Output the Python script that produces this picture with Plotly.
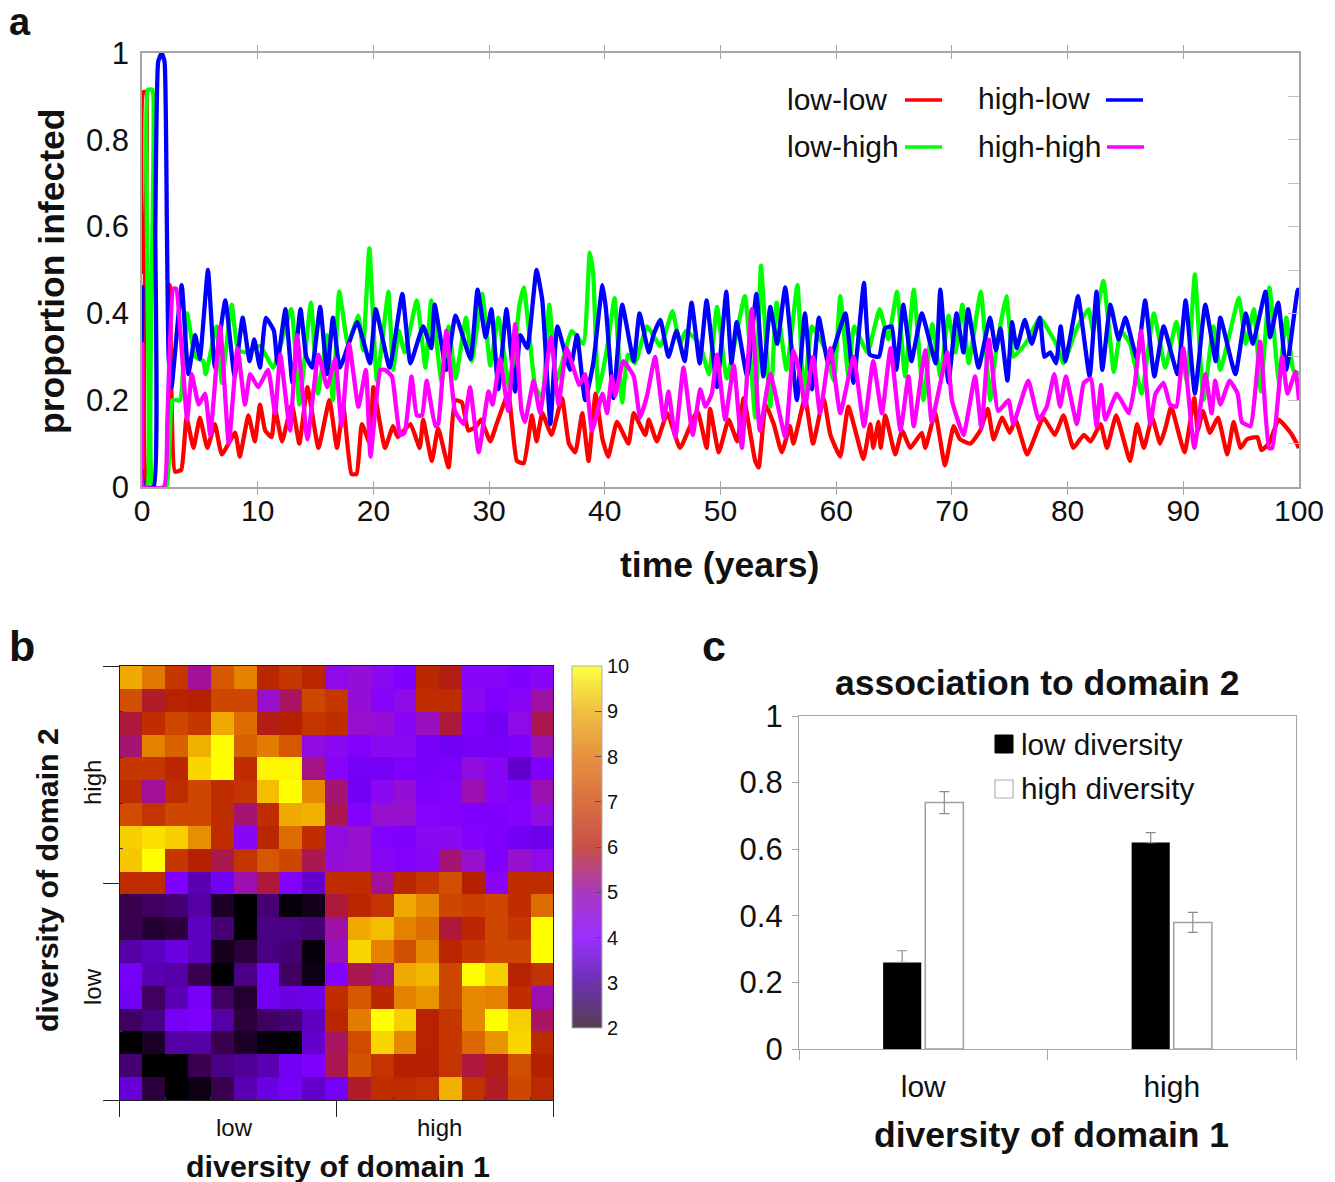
import plotly.graph_objects as go

W, H = 1335, 1182
FONT = "Liberation Sans"
INK = "#111111"
GREY = "#a6a6a6"

# ---------- panel a ----------
t_low_low = [0,.1,.35,.45,1.95,2.4,2.85,3.4,3.85,4.45,5,5.65,6.3,6.9,8.05,8.45,9.2,9.75,10.2,10.65,11.2,11.5,12.1,12.95,13.6,14.3,15.25,16.2,16.85,17.4,18.1,18.55,19,19.7,20,21,21.7,22.1,23.2,24,24.3,25.05,25.6,26.5,27.05,27.65,28.2,28.9,29.3,30.1,30.65,31.65,32.4,33,33.7,34.1,34.6,35.4,36.3,36.9,37.45,38.05,38.6,39.2,39.8,40.3,41.05,42.05,42.5,43.5,43.8,44.5,45.4,46.5,48,48.8,49.1,49.85,50.7,51.45,52,53,53.3,53.9,54.6,55.3,56,56.3,57.3,58,58.9,59.5,60.35,61.05,62.35,62.95,63.2,63.65,63.85,64.25,65.1,65.7,66.4,67.4,67.7,68.55,69.4,70.15,70.7,71.6,72.45,73.1,73.6,74.35,75,75.5,76.5,77.9,78.9,79.65,80.5,81.4,82,82.85,83.4,84.2,85.4,86,86.6,87.3,88,88.5,88.95,90.1,90.95,91.25,91.7,92.3,93,93.8,94.35,94.95,95.5,96.4,96.75,97.4,98.25,99.4,100]
v_low_low = [.49,.91,.91,0,0,.465,.035,.04,.16,.09,.16,.09,.145,.075,.125,.07,.165,.105,.19,.13,.115,.18,.105,.19,.10,.23,.09,.20,.09,.185,.03,.03,.145,.10,.23,.09,.14,.115,.145,.09,.155,.06,.135,.045,.20,.195,.13,.14,.155,.105,.145,.215,.06,.055,.165,.105,.17,.12,.205,.10,.08,.17,.06,.215,.11,.07,.15,.10,.17,.12,.155,.105,.17,.09,.175,.09,.18,.08,.155,.105,.205,.06,.045,.19,.145,.08,.14,.10,.205,.10,.205,.12,.07,.185,.065,.145,.09,.15,.09,.165,.075,.13,.09,.125,.09,.17,.05,.14,.11,.10,.13,.18,.11,.16,.125,.155,.075,.16,.12,.165,.09,.12,.105,.145,.09,.165,.06,.145,.09,.16,.10,.14,.185,.08,.205,.13,.175,.125,.16,.075,.15,.09,.11,.115,.085,.10,.155,.12,.09]

t_low_high = [0,.45,.5,.9,.95,2.1,2.6,3.0,3.3,3.9,4.6,5.3,5.5,6.45,6.9,7.75,8.3,9,10.2,11.35,12.9,13.6,14.6,15.2,16,16.5,17.05,17.8,18.7,19.1,19.65,20.3,21.3,21.7,22.2,22.7,23.75,24.5,25,25.9,26.5,27.1,28,28.5,29.4,30.1,30.8,31.8,32.6,33,33.4,34,34.6,35.2,35.85,37.15,38.15,38.7,39,39.45,40.2,40.85,41.5,42,42.6,43.65,44.8,45.85,46.5,47,48.2,49,49.7,50.55,52.1,53,53.5,54.3,54.85,55.7,56.65,57.2,57.9,59,59.8,60.35,61.05,61.55,62.7,63.75,64.5,65.25,65.95,66.7,67.55,68.3,69,69.7,70.3,70.9,71.45,72.5,73.3,73.75,74.7,75.3,76.05,76.6,77.6,79,79.65,80.7,81.8,82.2,83.1,84,84.6,85.4,86.4,87.45,88.45,89.4,90.3,91,91.75,92.6,93.2,94.8,95.4,96.1,96.7,97.45,98.25,98.9,99.5,100]
v_low_high = [0,0,.915,.915,0,0,.2,.2,.2,.40,.30,.29,.26,.37,.24,.42,.315,.31,.325,.275,.41,.19,.425,.215,.35,.20,.45,.33,.395,.315,.55,.245,.45,.27,.36,.31,.43,.275,.43,.24,.37,.25,.39,.29,.445,.28,.39,.22,.415,.46,.37,.23,.205,.42,.245,.36,.33,.54,.49,.22,.32,.435,.195,.305,.285,.37,.325,.405,.33,.36,.33,.26,.415,.25,.44,.16,.51,.185,.425,.27,.465,.205,.37,.32,.245,.44,.255,.37,.31,.41,.34,.45,.255,.455,.20,.375,.255,.395,.31,.42,.285,.45,.20,.30,.44,.30,.32,.34,.39,.33,.285,.36,.41,.36,.475,.265,.36,.33,.215,.40,.275,.38,.245,.49,.20,.37,.27,.435,.33,.41,.22,.46,.245,.39,.27,.26]

t_high_low = [0,.05,.15,1.0,1.15,1.4,1.7,1.95,2.15,2.3,2.55,3.43,4.0,4.6,5.0,5.7,6.3,7.2,8.0,8.7,9.3,9.7,10.2,10.7,11.4,11.7,12.4,13,13.7,14.2,14.7,15.4,16,16.5,17.1,18.6,19.7,20.2,21.4,22.5,23.2,24.3,25,25.3,26.3,27.1,28.4,29,29.7,30.2,30.8,31.5,32.25,32.7,33.3,34.1,34.6,35.3,35.9,37,37.6,38.3,39,39.8,40.1,40.75,41.5,42.5,43,43.8,44.2,44.8,45.5,46.2,46.9,47.5,48.2,48.8,49.7,50.5,50.95,51.4,52.3,53.1,53.7,54.3,54.9,55.6,56.6,57.3,57.9,58.5,59.3,59.8,60.8,61.5,62.4,62.9,63.7,64.2,64.8,65.2,65.8,66.5,67.4,68.6,69,69.7,70.4,71,71.4,72.3,73.3,73.8,74.2,74.8,75.2,75.6,76.3,76.9,77.6,78,78.5,79,79.4,79.8,80.5,80.9,81.9,82.5,83,83.7,84.4,85,86,86.7,87.5,88.3,89.5,90.2,91,91.9,92.8,93.2,94.5,95.4,96,97.1,97.5,98.2,98.9,99.9,100]
v_high_low = [.33,.46,0,0,.6,.98,1.0,.98,.6,.3,.23,.465,.26,.35,.295,.50,.275,.43,.255,.39,.29,.34,.275,.39,.36,.285,.41,.24,.41,.30,.275,.415,.26,.39,.275,.38,.285,.41,.275,.445,.285,.37,.32,.42,.27,.395,.295,.455,.345,.41,.225,.41,.22,.35,.32,.50,.43,.145,.37,.27,.35,.20,.285,.465,.41,.205,.42,.29,.40,.31,.35,.385,.30,.36,.29,.425,.285,.43,.23,.45,.285,.38,.255,.445,.255,.415,.33,.46,.20,.40,.225,.39,.285,.32,.40,.24,.47,.305,.30,.365,.37,.27,.42,.29,.40,.285,.455,.24,.40,.31,.41,.275,.39,.315,.365,.245,.38,.32,.385,.33,.39,.30,.31,.285,.37,.29,.385,.44,.255,.45,.27,.42,.34,.39,.295,.43,.255,.37,.26,.43,.215,.42,.29,.39,.26,.40,.33,.45,.345,.425,.27,.455,.45]

t_high_high = [0,.02,.1,1.9,2.2,2.7,2.95,3.9,4.3,4.9,5.45,5.9,6.75,7.5,8.25,8.9,9.35,10.05,10.9,11.5,11.95,12.8,13.4,14.3,15.25,16,16.7,17.25,17.9,18.7,19.35,19.75,20.6,21,21.6,22.3,22.7,23.3,23.75,24.2,24.6,25.35,25.6,26.3,27.05,27.8,28.35,29.1,29.95,30.3,30.95,31.65,32.25,32.8,33.1,33.85,34.4,35.35,36,36.7,37.8,38.3,38.9,39.8,40.2,40.6,40.9,41.6,42.5,43.05,43.65,44.35,45.1,45.5,46.1,46.8,47.6,48.25,48.7,49.25,49.7,50.4,51.15,51.85,52.7,53.4,54.3,55.6,56.3,56.9,57.3,58,58.6,59.5,60.35,61.5,62.4,63.2,63.95,64.7,65.55,66.25,66.7,67.7,68.25,68.85,69.6,70,71,72,72.55,73.2,74,74.9,75.3,76.6,77.5,78.2,78.85,79.35,79.85,80.8,81.4,82,82.5,82.9,83.25,84.25,85.3,85.8,86.35,87.15,87.6,88.3,88.85,89.4,90,90.95,91.9,92.45,92.75,93.2,94,94.7,95.05,95.8,96.65,97.4,97.7,98.55,99,99.7,100]
v_high_high = [.04,.33,0,0,.16,.457,.457,.155,.26,.19,.215,.12,.37,.10,.32,.19,.26,.23,.27,.17,.305,.13,.35,.11,.305,.23,.295,.14,.33,.185,.27,.07,.27,.27,.255,.12,.125,.255,.165,.165,.245,.14,.145,.36,.175,.145,.23,.08,.22,.19,.295,.175,.375,.175,.15,.245,.17,.345,.19,.32,.235,.26,.13,.215,.17,.255,.21,.29,.255,.16,.21,.30,.155,.22,.115,.275,.12,.225,.185,.215,.305,.155,.28,.09,.41,.13,.26,.115,.315,.255,.185,.30,.17,.32,.17,.30,.14,.29,.17,.32,.13,.255,.14,.315,.15,.22,.31,.20,.12,.255,.135,.34,.175,.20,.145,.245,.155,.185,.26,.185,.255,.145,.24,.25,.14,.235,.155,.215,.17,.235,.36,.145,.215,.24,.19,.185,.32,.09,.26,.17,.245,.19,.245,.215,.15,.14,.335,.09,.09,.30,.215,.265,.20]

y_ticks_a = [0, 0.2, 0.4, 0.6, 0.8, 1]
y_tick_text_a = ["0", "0.2", "0.4", "0.6", "0.8", "1"]

# ---------- panel b ----------
heat_rows = [
 [9.0,8.2,6.8,5.2,7.6,8.4,6.2,6.8,6.2,4.5,4.7,4.4,4.0,6.2,5.9,4.2,4.2,4.0,4.3],
 [7.4,5.8,6.1,6.0,7.2,7.2,4.8,5.5,7.2,6.8,4.7,4.2,4.5,6.4,6.4,4.4,4.0,4.3,5.1],
 [5.7,6.5,7.2,6.8,9.0,8.0,5.9,6.0,6.7,6.5,4.8,4.7,4.3,4.9,5.7,4.0,3.6,4.5,5.6],
 [5.4,8.4,7.8,9.1,10,7.8,8.3,7.6,4.6,4.4,4.1,4.4,4.4,3.8,3.6,3.7,3.7,4.0,5.0],
 [6.8,6.8,6.2,9.6,10,6.4,9.9,9.9,5.3,4.2,3.7,3.7,4.0,3.8,3.9,4.6,4.3,3.2,4.0],
 [6.4,5.2,6.4,7.2,6.4,6.7,9.3,10,8.5,5.4,3.6,4.4,4.7,3.9,4.1,5.0,4.3,4.0,5.0],
 [7.3,6.7,7.2,7.2,6.4,5.4,6.4,9.0,9.1,5.6,4.1,4.8,4.8,4.2,4.1,4.0,4.0,4.1,4.6],
 [9.5,9.7,9.5,8.6,6.4,4.3,6.2,8.0,6.5,4.6,4.8,4.1,4.0,4.4,4.4,4.1,4.0,3.6,3.5],
 [9.4,10,6.8,6.0,5.6,6.7,7.6,7.2,5.6,4.7,4.8,4.3,4.1,4.3,5.4,4.8,4.0,4.8,4.5],
 [6.4,6.4,4.0,3.0,3.6,5.0,5.7,4.1,3.2,6.4,6.4,5.2,6.2,6.8,7.4,6.0,4.3,6.4,6.4],
 [2.4,2.5,2.6,2.9,2.2,2.0,2.6,2.05,2.15,5.7,6.2,6.7,9.0,8.5,7.2,7.0,7.2,6.5,8.0],
 [2.4,2.25,2.3,3.1,2.6,2.0,2.7,2.7,2.6,5.1,9.0,9.3,8.4,8.0,5.7,6.2,7.2,6.8,10],
 [2.9,3.1,3.4,3.1,2.15,2.3,2.7,2.6,2.05,4.9,9.6,8.4,7.4,8.5,6.2,6.8,7.2,7.2,10],
 [3.7,3.0,2.9,2.4,2.0,2.7,3.6,2.5,2.1,4.1,5.6,5.3,9.0,9.2,7.2,10,9.5,6.1,6.6],
 [3.6,2.5,3.0,3.7,2.5,2.25,3.6,3.4,3.5,6.5,7.6,6.2,8.4,8.7,7.2,8.5,8.4,6.5,5.0],
 [2.5,2.7,3.7,3.9,2.9,2.3,2.5,2.6,3.1,6.2,8.3,10,9.5,6.1,6.8,8.5,10,9.5,5.5],
 [2.0,2.2,2.9,2.9,2.4,2.2,2.05,2.0,3.2,5.5,7.3,9.6,8.5,6.1,6.8,7.9,8.7,9.6,6.3],
 [2.6,2.0,2.0,2.4,2.7,2.8,3.0,3.6,3.9,5.6,7.5,6.7,6.0,6.0,6.7,5.7,5.9,7.4,6.0],
 [3.3,2.3,2.0,2.1,2.4,3.0,3.4,3.7,3.2,3.7,5.8,6.5,6.4,6.6,9.1,6.6,5.8,7.2,6.3],
]
heat_cols = [i + 0.5 for i in range(19)]
heat_row_pos = [i + 0.5 for i in range(19)]

cell_scale = [[0,"#000000"],[.05,"#390050"],[.1,"#500096"],[.15,"#6300ce"],[.2,"#7200f2"],[.25,"#8000ff"],
              [.3,"#8b08f2"],[.35,"#9710ce"],[.4,"#a11096"],[.45,"#ab174f"],[.5,"#b52000"],[.6,"#c63700"],
              [.7,"#d55700"],[.8,"#e48200"],[.9,"#f2b600"],[.95,"#f9d600"],[1,"#ffff00"]]
bar_scale = [[0,"#554050"],[.125,"#6c30b0"],[.25,"#9a30ff"],[.375,"#a838c0"],[.5,"#c85048"],
             [.625,"#d87040"],[.75,"#e89040"],[.875,"#f0c040"],[1,"#ffff40"]]

# ---------- panel c ----------
bar_cats = ["low", "high"]
low_diversity = [0.26, 0.62]
low_diversity_err = [0.035, 0.03]
high_diversity = [0.74, 0.38]
high_diversity_err = [0.033, 0.03]

def px(x): return x / W
def py(y): return 1 - y / H

fig = go.Figure()

series = [("low-low", t_low_low, v_low_low, "#ff0000"),
          ("low-high", t_low_high, v_low_high, "#00ff00"),
          ("high-low", t_high_low, v_high_low, "#0000ff"),
          ("high-high", t_high_high, v_high_high, "#ff00ff")]
for name, t, v, c in series:
    fig.add_trace(go.Scatter(x=t, y=v, name=name, mode="lines", xaxis="x", yaxis="y",
                             line=dict(color=c, width=4.3, shape="spline", smoothing=0.4),
                             showlegend=False))
# keeps the right-hand tick axis of panel a on the page
fig.add_trace(go.Scatter(x=[50], y=[0.5], xaxis="x", yaxis="y4", mode="markers", showlegend=False,
                         marker=dict(size=1, opacity=0), hoverinfo="skip"))

fig.add_trace(go.Heatmap(z=heat_rows, x=heat_cols, y=heat_row_pos, xaxis="x2", yaxis="y2",
                         colorscale=cell_scale, zmin=2, zmax=10, showscale=False))
fig.add_trace(go.Scatter(x=[0.5], y=[0.5], xaxis="x2", yaxis="y2", mode="markers", showlegend=False,
                         marker=dict(size=1, opacity=0, color=[2], cmin=2, cmax=10, colorscale=bar_scale,
                                     showscale=True,
                                     colorbar=dict(x=px(572), xanchor="left", xref="paper", y=py(666), yanchor="top",
                                                   yref="paper", lenmode="pixels", len=362, thickness=30,
                                                   xpad=0, ypad=0, outlinecolor="#b0b0b0", outlinewidth=1,
                                                   tickmode="array", tickvals=[2,3,4,5,6,7,8,9,10],
                                                   ticks="inside", ticklen=7, tickcolor="#555555",
                                                   tickfont=dict(size=20, color=INK, family=FONT)))))

for name, vals, up, down, fill, line, lw in [
        ("low diversity", low_diversity, low_diversity_err, [0, 0], "#000000", "#000000", 0),
        ("high diversity", high_diversity, high_diversity_err, high_diversity_err, "#ffffff", "#a0a0a0", 1.5)]:
    fig.add_trace(go.Bar(x=bar_cats, y=vals, name=name, xaxis="x3", yaxis="y3", showlegend=False,
                         marker=dict(color=fill, line=dict(color=line, width=lw)),
                         error_y=dict(type="data", array=up, arrayminus=down, color="#8c8c8c", thickness=1.2, width=5)))

ann = []
def text(x, y, s, size=30, bold=False, rot=0, anchor="center"):
    ann.append(dict(xref="paper", yref="paper", x=px(x), y=py(y), text=f"<b>{s}</b>" if bold else s,
                    showarrow=False, textangle=rot, xanchor=anchor, yanchor="middle",
                    font=dict(size=size, color=INK, family=FONT)))

text(20, 22, "a", 38, True)
text(22, 646, "b", 43, True)
text(714, 646, "c", 43, True)
text(52, 272, "proportion infected", 35.5, True, -90)
text(719, 565, "time (years)", 35.5, True)
text(785, 100, "low-low", 30, anchor="left")
text(976, 99, "high-low", 30, anchor="left")
text(785, 147, "low-high", 30, anchor="left")
text(976, 147, "high-high", 30, anchor="left")
text(234, 1127, "low", 24)
text(440, 1127, "high", 24)
text(92, 987, "low", 24, rot=-90)
text(92, 783, "high", 24, rot=-90)
text(338, 1166, "diversity of domain 1", 30.4, True)
text(47, 880, "diversity of domain 2", 30.4, True, -90)
text(1037, 683, "association to domain 2", 35.5, True)
text(1051, 1135, "diversity of domain 1", 35.5, True)
text(1019, 744, "low diversity", 29.7, anchor="left")
text(1019, 789, "high diversity", 29.7, anchor="left")

shapes = []
for x0, x1, y, c in [(905,942,100,"#ff0000"),(1106,1143,100,"#0000ff"),(905,942,147,"#00ff00"),(1107,1144,147,"#ff00ff")]:
    shapes.append(dict(type="line", xref="paper", yref="paper", x0=px(x0), x1=px(x1), y0=py(y), y1=py(y),
                       line=dict(color=c, width=3.6)))
shapes.append(dict(type="rect", xref="paper", yref="paper", x0=px(995), x1=px(1013), y0=py(735), y1=py(753),
                   fillcolor="#000000", line=dict(color="#000000", width=1)))
shapes.append(dict(type="rect", xref="paper", yref="paper", x0=px(995), x1=px(1013), y0=py(780), y1=py(798),
                   fillcolor="#ffffff", line=dict(color="#b0b0b0", width=1.2)))

tf = dict(size=30, color=INK, family=FONT)
tfy = dict(size=31, color=INK, family=FONT)
fig.update_layout(
    width=W, height=H, margin=dict(l=0, r=0, t=0, b=0, autoexpand=False), autosize=False,
    paper_bgcolor="white", plot_bgcolor="white", font=dict(family=FONT),
    annotations=ann, shapes=shapes,
    barmode="group", bargap=0.661, bargroupgap=0.095,
    xaxis=dict(domain=[px(142), px(1299)], range=[0, 100], tickmode="array", tickvals=list(range(0, 101, 10)),
               ticks="inside", ticklen=6, tickcolor=GREY, showline=True, linecolor=GREY, linewidth=1.5,
               mirror="allticks", showgrid=False, zeroline=False, tickfont=tf, anchor="y", ticklabelstandoff=-4),
    yaxis=dict(domain=[py(487), py(53)], range=[0, 1], tickmode="array", tickvals=y_ticks_a, ticktext=y_tick_text_a,
               ticks="", showline=True, linecolor=GREY, linewidth=1.5, showgrid=False, zeroline=False,
               tickfont=tfy, anchor="x", ticklabelstandoff=5),
    yaxis4=dict(domain=[py(487), py(53)], range=[0, 1], overlaying="y", side="right", anchor="x", tickmode="linear",
                tick0=0, dtick=0.1, ticks="inside", ticklen=11, tickcolor="#c0c0c0", showticklabels=False,
                showgrid=False, zeroline=False, showline=True, linecolor=GREY, linewidth=1.5),
    xaxis2=dict(domain=[px(119.5), px(553)], range=[0, 19], tickmode="array", tickvals=[0, 9.5, 19], showticklabels=False,
                ticks="outside", ticklen=16, tickcolor="#222222", showline=True, linecolor="#222222", linewidth=1,
                mirror=True, showgrid=False, zeroline=False, anchor="y2",
                minor=dict(tickmode="array", tickvals=list(range(2, 19, 2)), ticks="inside", ticklen=3, tickcolor="#333333")),
    yaxis2=dict(domain=[py(1100), py(666)], range=[19, 0], tickmode="array", tickvals=[0, 9.5, 19], showticklabels=False,
                ticks="outside", ticklen=16, tickcolor="#222222", showline=True, linecolor="#222222", linewidth=1,
                mirror=True, showgrid=False, zeroline=False, anchor="x2",
                minor=dict(tickmode="array", tickvals=list(range(2, 19, 2)), ticks="inside", ticklen=3, tickcolor="#333333")),
    xaxis3=dict(domain=[px(799), px(1296)], type="category", tickson="boundaries", ticks="outside", ticklen=10,
                tickcolor=GREY, showline=True, linecolor=GREY, linewidth=1.2, mirror=True, showgrid=False, zeroline=False,
                tickfont=tf, anchor="y3", ticklabelstandoff=11),
    yaxis3=dict(domain=[py(1049), py(716)], range=[0, 1], tickmode="array", tickvals=y_ticks_a, ticktext=y_tick_text_a,
                ticks="outside", ticklen=6, tickcolor=GREY, showline=True, linecolor=GREY, linewidth=1.2, mirror=True,
                showgrid=False, zeroline=False, tickfont=tfy, anchor="x3", ticklabelstandoff=3),
)
fig.write_html("out.html", config={"displayModeBar": False}, post_script="document.body.style.margin='0';")
